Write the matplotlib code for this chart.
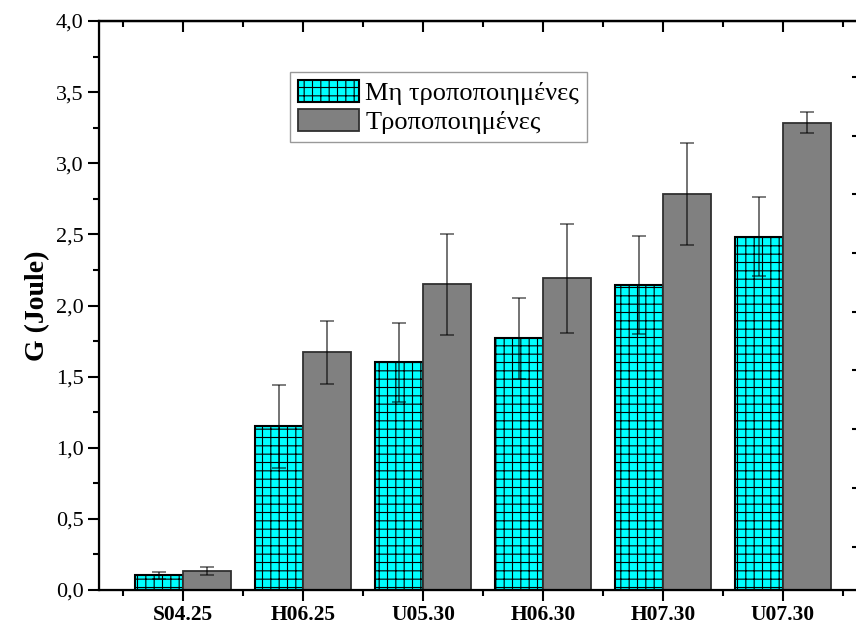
import numpy as np
import matplotlib
matplotlib.use("Agg")
import matplotlib.pyplot as plt
from matplotlib.ticker import FuncFormatter, MultipleLocator

# dados
samples = ['S04.25', 'H06.25', 'U05.30', 'H06.30', 'H07.30', 'U07.30']
unmodified = [0.105, 1.15, 1.60, 1.77, 2.145, 2.485]
unmodified_err = [0.025, 0.29, 0.28, 0.285, 0.345, 0.28]
modified = [0.136, 1.67, 2.15, 2.19, 2.785, 3.285]
modified_err = [0.028, 0.22, 0.355, 0.385, 0.36, 0.075]
labels = ['Μη τροποποιημένες', 'Τροποποιημένες']

plt.rcParams['font.family'] = ['Liberation Serif', 'DejaVu Serif']
plt.rcParams['hatch.linewidth'] = 0.8

W, H = 856, 633
fig = plt.figure(figsize=(W / 100, H / 100), dpi=100)
ax = fig.add_axes([99 / W, 1 - 590 / H, (867 - 99) / W, 569 / H])

x = np.arange(len(samples))
bw = 0.4
err_kw = dict(ecolor='black', elinewidth=1.4, capsize=5, capthick=1.3, alpha=0.55)
ax.bar(x - bw / 2, unmodified, bw, yerr=unmodified_err, color='#00FFFF',
       edgecolor='black', linewidth=1.5, hatch='++', label=labels[0],
       error_kw=err_kw, zorder=2)
ax.bar(x + bw / 2, modified, bw, yerr=modified_err, color='#808080',
       edgecolor='#303030', linewidth=1.3, label=labels[1],
       error_kw=err_kw, zorder=2)

ax.set_xlim(-0.7, len(samples) - 0.3)
ax.set_ylim(0, 4.0)
ax.set_xticks(x)
ax.set_xticklabels(samples, fontsize=15.5, fontweight='bold')
ax.set_xticks(np.append(x - 0.5, x[-1] + 0.5), minor=True)
ax.yaxis.set_major_locator(MultipleLocator(0.5))
ax.yaxis.set_minor_locator(MultipleLocator(0.25))
ax.yaxis.set_major_formatter(FuncFormatter(lambda v, p: f'{v:.1f}'.replace('.', ',')))
ax.tick_params(axis='y', labelsize=16)
ax.tick_params(which='major', direction='out', length=8, width=1.5, pad=3)
ax.tick_params(which='minor', direction='out', length=4, width=1.5)
ax.set_ylabel('G (Joule)', fontsize=20, fontweight='bold', labelpad=4)
for s in ax.spines.values():
    s.set_linewidth(1.6)

# eixo superior com ticks para dentro
top = ax.secondary_xaxis('top')
top.set_xticks(x)
top.set_xticks(np.append(x - 0.5, x[-1] + 0.5), minor=True)
top.tick_params(which='major', direction='in', length=8, width=1.5, labeltop=False)
top.tick_params(which='minor', direction='in', length=4, width=1.5)
top.spines['top'].set_linewidth(1.6)

# eixo da direita (cortado na imagem)
right = ax.twinx()
right.set_ylim(-0.74, 8.95)
right.set_yticks(np.arange(0, 9))
right.tick_params(axis='y', direction='in', length=11, width=1.5, labelright=False)
right.spines['right'].set_linewidth(1.6)

leg = ax.legend(loc='upper left', bbox_to_anchor=(290 / W, 1 - 72 / H),
                bbox_transform=fig.transFigure, fontsize=19, frameon=True,
                fancybox=False, edgecolor='#808080', handlelength=2.3,
                handleheight=0.9, handletextpad=0.25, borderpad=0.3,
                labelspacing=0.15, borderaxespad=0)
leg.get_frame().set_linewidth(1.0)

fig.savefig('out.png', dpi=100)
